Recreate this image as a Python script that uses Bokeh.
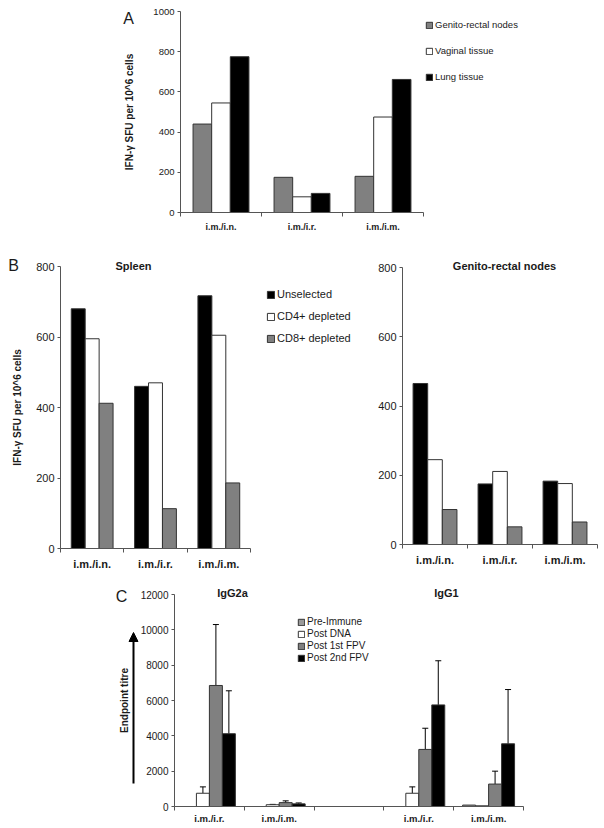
from bokeh.plotting import figure
from bokeh.models import (Range1d, FixedTicker, Legend, LegendItem, Label, Whisker,
                          TeeHead, Arrow, NormalHead, ColumnDataSource)
from bokeh.layouts import column, row
from bokeh.embed import file_html
from bokeh.resources import INLINE

FONT = "Liberation Sans"
GRAY = "#808080"
GRAY_LIGHT = "#9a9a9a"
EDGE = "#333333"
AXIS = "#555555"
TXT = "#1a1a1a"

# ---------------- Panel A data ----------------
a_categories = ["i.m./i.n.", "i.m./i.r.", "i.m./i.m."]
a_genito = [440, 175, 180]
a_vaginal = [545, 78, 475]
a_lung = [775, 95, 662]
a_yticks = [0, 200, 400, 600, 800, 1000]

# ---------------- Panel B data ----------------
b_categories = ["i.m./i.n.", "i.m./i.r.", "i.m./i.m."]
spleen_unselected = [680, 460, 717]
spleen_cd4 = [595, 470, 605]
spleen_cd8 = [412, 113, 186]
nodes_unselected = [465, 175, 183]
nodes_cd4 = [245, 211, 176]
nodes_cd8 = [101, 51, 65]
b_yticks = [0, 200, 400, 600, 800]

# ---------------- Panel C data ----------------
c_categories = ["i.m./i.r.", "i.m./i.m.", "", "i.m./i.r.", "i.m./i.m."]
c_pre = [0, 0, None, 0, 80]
c_dna = [750, 100, None, 750, 40]
c_fpv1 = [6850, 220, None, 3230, 1270]
c_fpv2 = [4120, 150, None, 5750, 3550]
c_dna_err = [360, 20, None, 360, None]
c_fpv1_err = [3450, 100, None, 1200, 730]
c_fpv2_err = [2430, 50, None, 2500, 3070]
c_yticks = [0, 2000, 4000, 6000, 8000, 10000, 12000]


def make_fig(W, H, box, cats, ymax, yticks, tick_size, cat_size):
    """box = (left, right, top, bottom) pixel position of the axes inside the canvas."""
    fx0, fx1, fy0, fy1 = box
    n = len(cats)
    sx = (fx1 - fx0) / n
    sy = (fy1 - fy0) / ymax
    xr = Range1d(-fx0 / sx, (W - fx0) / sx)
    yr = Range1d(-(H - fy1) / sy, ymax + fy0 / sy)
    p = figure(width=W, height=H, x_range=xr, y_range=yr, output_backend="svg",
               toolbar_location=None, title=None, min_border=0)
    p.xgrid.visible = False
    p.ygrid.visible = False
    p.outline_line_color = None
    p.background_fill_color = "white"
    p.border_fill_color = "white"

    ax = p.xaxis[0]
    ax.fixed_location = 0
    ax.bounds = (0, n)
    centers = [i + 0.5 for i, c in enumerate(cats) if c]
    ax.ticker = FixedTicker(ticks=centers, minor_ticks=list(range(n + 1)))
    ax.major_label_overrides = {i + 0.5: c for i, c in enumerate(cats) if c}
    ax.major_tick_line_color = None
    ax.major_tick_out = 0
    ax.major_tick_in = 0
    ax.minor_tick_out = 4
    ax.minor_tick_in = 0
    ax.minor_tick_line_color = AXIS
    ax.axis_line_color = AXIS
    ax.major_label_text_font = FONT
    ax.major_label_text_font_style = "bold"
    ax.major_label_text_font_size = cat_size
    ax.major_label_text_color = TXT

    ay = p.yaxis[0]
    ay.fixed_location = 0
    ay.bounds = (0, ymax)
    ay.ticker = FixedTicker(ticks=yticks)
    ay.major_tick_out = 3
    ay.major_tick_in = 0
    ay.minor_tick_line_color = None
    ay.major_tick_line_color = AXIS
    ay.axis_line_color = AXIS
    ay.major_label_standoff = 3
    ay.major_label_text_font = FONT
    ay.major_label_text_font_size = tick_size
    ay.major_label_text_color = TXT
    return p


def ylabel(p, s, standoff):
    ay = p.yaxis[0]
    ay.axis_label = s
    ay.axis_label_text_font = FONT
    ay.axis_label_text_font_style = "bold"
    ay.axis_label_text_font_size = "10px"
    ay.axis_label_text_color = TXT
    ay.axis_label_standoff = standoff


def bars(p, values, offset, width, fill):
    xs, tops = [], []
    for i, v in enumerate(values):
        if v is None:
            continue
        xs.append(i + 0.5 + offset)
        tops.append(v)
    src = ColumnDataSource(dict(x=xs, top=tops))
    return p.vbar(x="x", top="top", width=width, bottom=0, source=src,
                  fill_color=fill, line_color=EDGE, line_width=1)


def legend(items, loc, glyph, spacing, size):
    return Legend(items=[LegendItem(label=l, renderers=[r]) for l, r in items],
                  location=loc, orientation="vertical",
                  glyph_width=glyph, glyph_height=glyph, label_height=glyph,
                  spacing=spacing, padding=0, margin=0, label_standoff=2,
                  border_line_color=None, background_fill_alpha=0,
                  label_text_font=FONT, label_text_font_size=size,
                  label_text_color=TXT)


def text(p, s, x, y, size, bold=False):
    # x, y: screen pixels measured from the canvas' top-left corner
    p.add_layout(Label(x=x, y=p.height - y, x_units="screen", y_units="screen", text=s,
                       text_font=FONT, text_font_size=size,
                       text_font_style="bold" if bold else "normal",
                       text_align="center", text_baseline="middle", text_color=TXT))


# ---------------- Panel A ----------------
pa = make_fig(604, 230, (180, 423, 11, 212), a_categories, 1000, a_yticks, "9.5px", "9px")
w = 0.23
r1 = bars(pa, a_genito, -w, w, GRAY)
r2 = bars(pa, a_vaginal, 0, w, "white")
r3 = bars(pa, a_lung, w, w, "black")
ylabel(pa, "IFN-\u03b3 SFU per 10^6 cells", 15)
pa.add_layout(legend([("Genito-rectal nodes", r1), ("Vaginal tissue", r2),
                      ("Lung tissue", r3)], (425, 148), 8, 15, "9.5px"))
text(pa, "A", 128, 18, "16px")

# ---------------- Panel B ----------------
ps = make_fig(370, 340, (60, 250, 36, 318), b_categories, 800, b_yticks, "11px", "11px")
w = 0.22
s1 = bars(ps, spleen_unselected, -w, w, "black")
s2 = bars(ps, spleen_cd4, 0, w, "white")
s3 = bars(ps, spleen_cd8, w, w, GRAY)
ylabel(ps, "IFN-\u03b3 SFU per 10^6 cells", 10)
ps.add_layout(legend([("Unselected", s1), ("CD4+ depleted", s2),
                      ("CD8+ depleted", s3)], (266, 226), 9, 10, "11px"))
text(ps, "Spleen", 133, 35, "11px", bold=True)
text(ps, "B", 13, 35, "16px")

pn = make_fig(234, 340, (32, 227, 37, 314), b_categories, 800, b_yticks, "11px", "11px")
w = 0.225
bars(pn, nodes_unselected, -w, w, "black")
bars(pn, nodes_cd4, 0, w, "white")
bars(pn, nodes_cd8, w, w, GRAY)
text(pn, "Genito-rectal nodes", 134, 35, "11px", bold=True)

# ---------------- Panel C ----------------
pc = make_fig(604, 258, (174, 523, 24, 236), c_categories, 12000, c_yticks, "10px", "9.5px")
pc.xaxis[0].major_label_standoff = 2
w = 0.186
offs = [-1.5 * w, -0.5 * w, 0.5 * w, 1.5 * w]
c1 = bars(pc, c_pre, offs[0], w, GRAY_LIGHT)
c2 = bars(pc, c_dna, offs[1], w, "white")
c3 = bars(pc, c_fpv1, offs[2], w, GRAY)
c4 = bars(pc, c_fpv2, offs[3], w, "black")

for vals, errs, off in [(c_dna, c_dna_err, offs[1]), (c_fpv1, c_fpv1_err, offs[2]),
                        (c_fpv2, c_fpv2_err, offs[3])]:
    xs, lo, hi = [], [], []
    for i, (v, e) in enumerate(zip(vals, errs)):
        if v is None or e is None:
            continue
        xs.append(i + 0.5 + off)
        lo.append(v)
        hi.append(v + e)
    src = ColumnDataSource(dict(x=xs, lower=lo, upper=hi))
    pc.add_layout(Whisker(source=src, base="x", lower="lower", upper="upper",
                          lower_head=None,
                          upper_head=TeeHead(size=6, line_color="black", line_width=1),
                          line_color="black", line_width=1))

ylabel(pc, "Endpoint titre", 8)
pc.add_layout(legend([("Pre-Immune", c1), ("Post DNA", c2), ("Post 1st FPV", c3),
                      ("Post 2nd FPV", c4)], (297, 165), 8, 1, "10px"))
pc.add_layout(Arrow(x_start=133, y_start=258 - 213, x_end=133, y_end=258 - 62,
                    start_units="screen", end_units="screen",
                    line_color="black", line_width=2,
                    end=NormalHead(size=9, fill_color="black", line_color="black")))
text(pc, "IgG2a", 232, 22, "11px", bold=True)
text(pc, "IgG1", 446, 22, "11px", bold=True)
text(pc, "C", 121, 26, "16px")

layout = column(pa, row(ps, pn), pc)
open("out.html", "w").write(file_html(layout, INLINE))
